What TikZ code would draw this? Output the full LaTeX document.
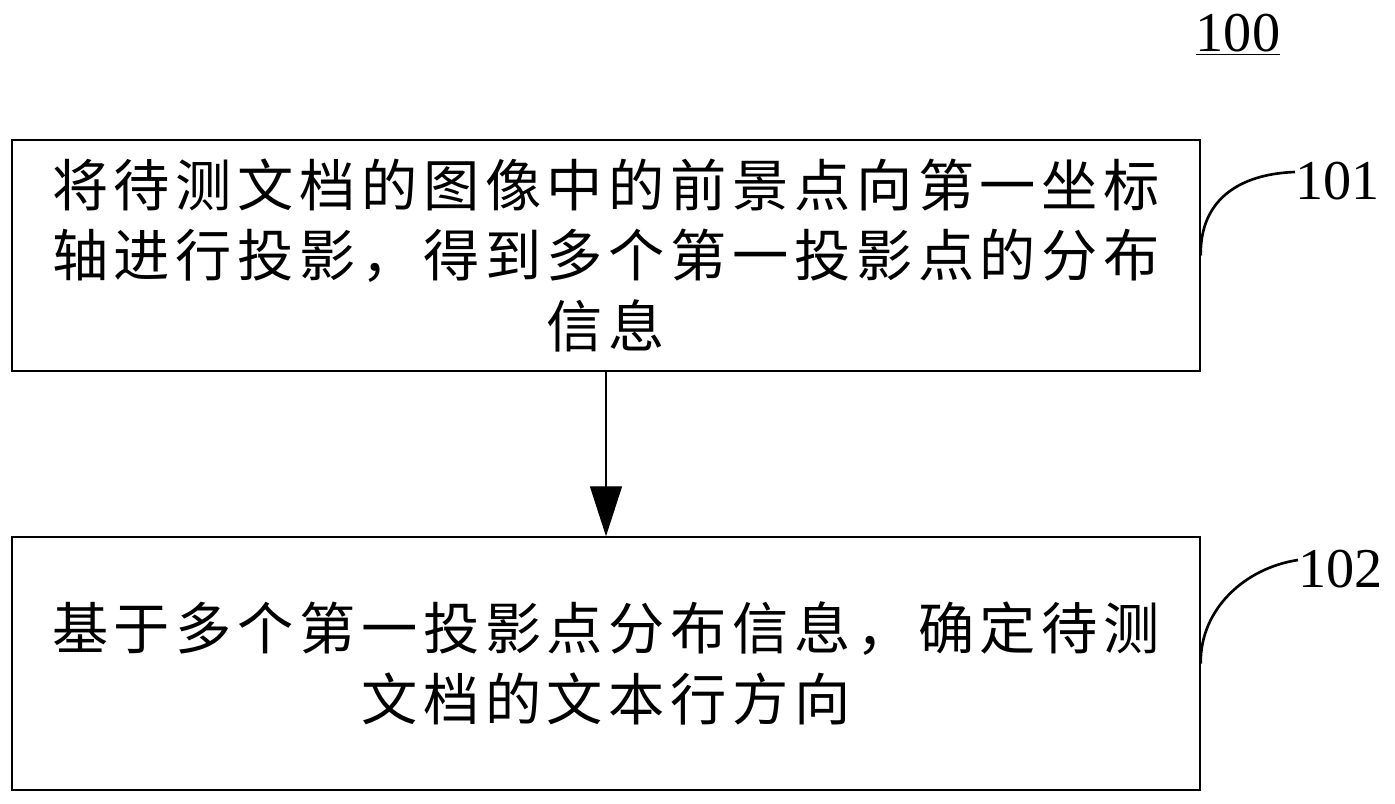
\documentclass[tikz,border=0pt]{standalone}
\usepackage{fontspec}
\setmainfont{Liberation Serif}
\newfontfamily\cjk{Noto Sans CJK SC}[LetterSpace=10]
\usepackage{tikz}
\usetikzlibrary{arrows.meta}

\begin{document}
\begin{tikzpicture}[
    blockbox/.style={draw,line width=0.8pt,minimum width=23.76cm,align=center,
      font=\cjk\fontsize{32}{40}\selectfont},
    numlabel/.style={font=\fontsize{32}{38}\selectfont,inner sep=0pt},
    leader/.style={line width=1.5pt}
  ]
    \useasboundingbox (0,0) rectangle (27.9,16.08);
    \node[numlabel] (fig) at (24.76,15.38) {\underline{100}};
    \node[blockbox,minimum height=4.62cm] (s1) at (12.12,10.97)
      {将待测文档的图像中的前景点向第一坐标\\轴进行投影，得到多个第一投影点的分布\\信息};
    \node[blockbox,minimum height=5.06cm] (s2) at (12.12,2.81)
      {基于多个第一投影点分布信息，确定待测\\文档的文本行方向};
    \draw[line width=0.8pt,-{Triangle[length=1cm,width=0.64cm]}] (s1) -- (s2);
    % step labels
    \node[numlabel,anchor=west] (l1) at (25.9,12.46) {101};
    \node[numlabel,anchor=west] (l2) at (25.96,4.70) {102};
    \draw[leader] (s1.east) .. controls (24.0,12.1) and (24.8,12.6) .. ([yshift=0.18cm]l1.west);
    \draw[leader] (s2.east) .. controls (24.0,3.9) and (24.9,4.72) .. ([yshift=0.18cm]l2.west);
\end{tikzpicture}
\end{document}
